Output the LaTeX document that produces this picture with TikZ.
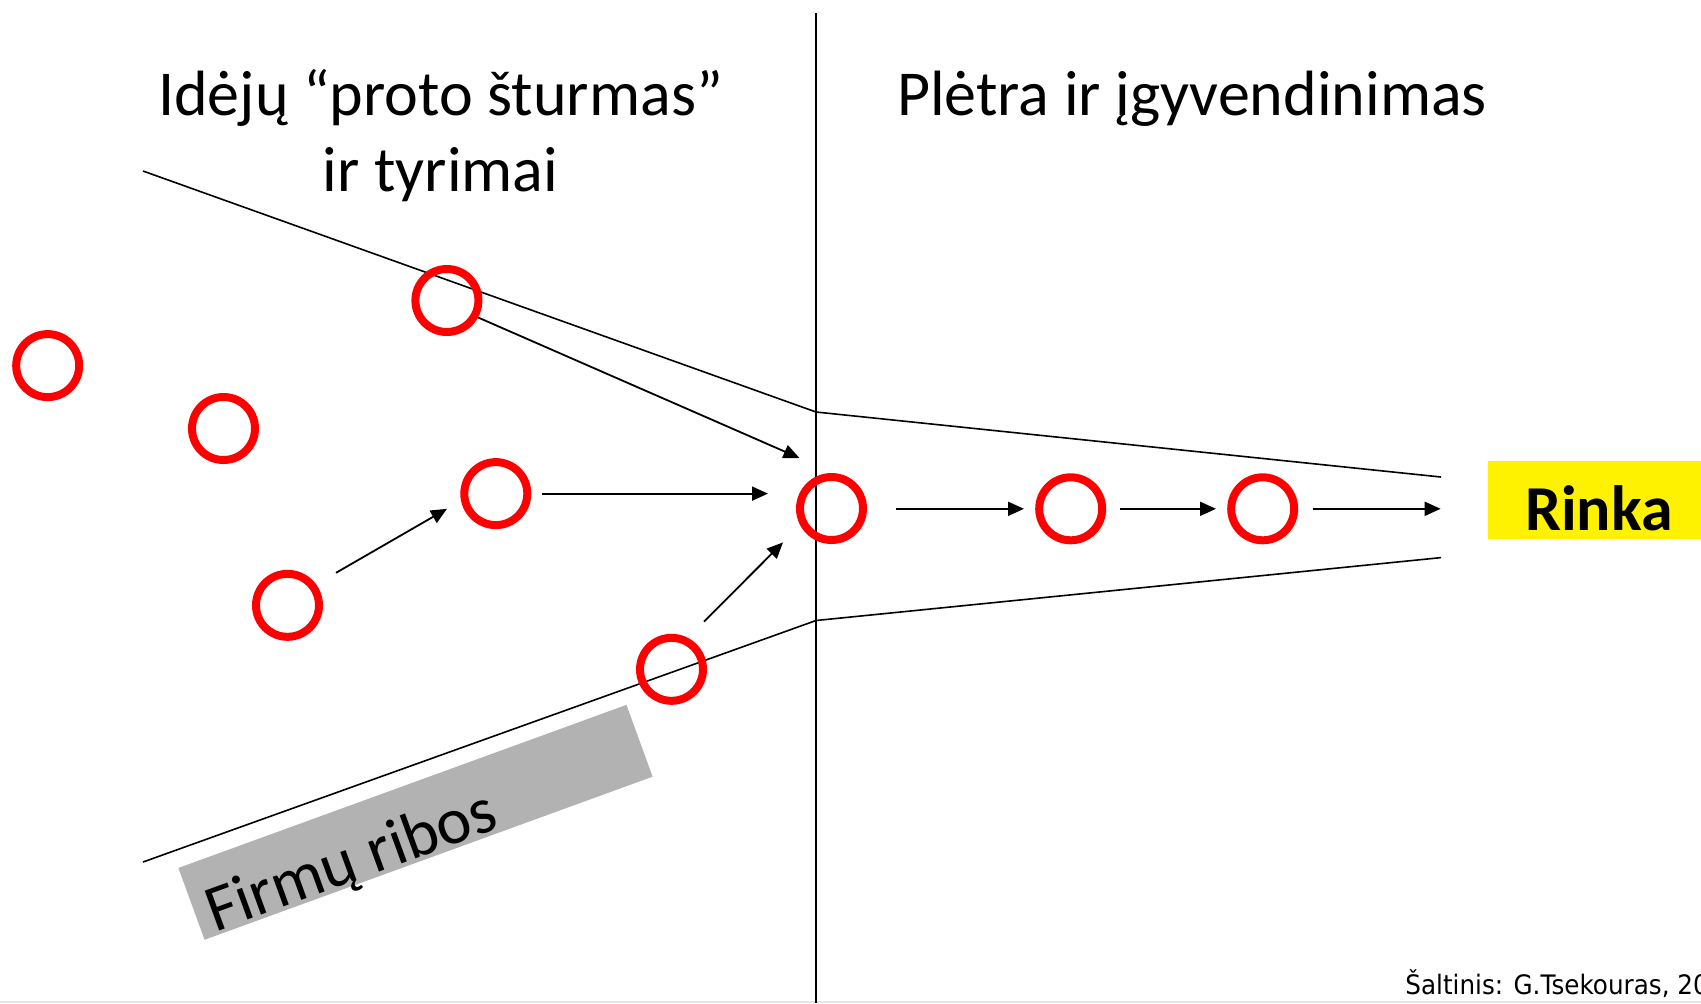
\documentclass[tikz,border=0pt]{standalone}
\usepackage{fontspec}
\setmainfont{Carlito}
\newfontfamily\srcfont{DejaVu Sans}
\usetikzlibrary{arrows.meta}
\begin{document}
\begin{tikzpicture}[x=0.5pt,y=-0.5pt,
  ring/.style={circle,draw=red,line width=4pt,minimum size=31.5pt,inner sep=0pt},
  funnel/.style={line width=0.8pt,black},
  flow/.style={line width=0.9pt,black,-{Triangle[length=8pt,width=7pt]}},
  bigtext/.style={font=\fontsize{32}{38}\selectfont,inner sep=0pt,anchor=base}]
\useasboundingbox (0,0) rectangle (1701,1003);
\fill[white] (0,0) rectangle (1701,1003);
\fill[black!10] (0,1000.5) rectangle (1701,1003);
% divider
\coordinate (vtop) at (816,13);
\coordinate (vbot) at (816,1003);
\draw[line width=1pt] (vtop) -- (vbot);
% funnel
\coordinate (ft1) at (143,171);
\coordinate (ft2) at (816,412);
\coordinate (ft3) at (1441,477);
\coordinate (fb1) at (143,862);
\coordinate (fb2) at (816,620.5);
\coordinate (fb3) at (1441,557.6);
\draw[funnel] (ft1) -- (ft2) -- (ft3);
\draw[funnel] (fb1) -- (fb2) -- (fb3);
% titles
\node[bigtext] (t1a) at (440.5,115) {Idėjų “proto šturmas”};
\node[bigtext] (t1b) at (440.5,191) {ir tyrimai};
\node[bigtext] (t2) at (1192,115) {Plėtra ir įgyvendinimas};
% gray box
\node[fill=black!30,rotate=20,minimum width=238.4pt,minimum height=38.2pt,inner sep=0pt] (firm) at (415.5,822.3) {};
\node[bigtext,font=\fontsize{33}{38}\selectfont,rotate=20] (firmt) at (358,880) {Firmų ribos};
% Rinka
\node[fill=yellow,minimum width=111pt,minimum height=39pt,inner sep=0pt] (rinka) at (1599,500) {};
\node[bigtext,font=\fontsize{32}{38}\selectfont\bfseries] (rinkat) at (1599,530.5) {Rinka};
% source
\node[font=\srcfont\fontsize{13.4}{15}\selectfont,anchor=base west,inner sep=0pt,xscale=0.92] (src) at (1405,994) {Šaltinis: G.Tsekouras, 200};
% arrow endpoints
\coordinate (a1s) at (477,317);   \coordinate (a1e) at (799.5,458);
\coordinate (a2s) at (542,493.6); \coordinate (a2e) at (768,493.6);
\coordinate (a3s) at (336,572.8); \coordinate (a3e) at (447,508.8);
\coordinate (a4s) at (704,621.6); \coordinate (a4e) at (783,542.4);
\coordinate (a5s) at (896,508.8); \coordinate (a5e) at (1024,508.8);
\coordinate (a6s) at (1119.5,508.8); \coordinate (a6e) at (1216,508.8);
\coordinate (a7s) at (1312.6,508.8); \coordinate (a7e) at (1440.6,508.8);
\foreach \i in {1,...,7} \draw[flow] (a\i s) -- (a\i e);
% circles
\node[ring] (c1) at (47.7,365.6) {};
\node[ring] (c2) at (223.5,428.5) {};
\node[ring] (c3) at (446.9,300.5) {};
\node[ring] (c4) at (495.8,493.6) {};
\node[ring] (c5) at (287.5,605.3) {};
\node[ring] (c6) at (671.5,669.3) {};
\node[ring] (c7) at (831.5,508.5) {};
\node[ring] (c8) at (1070.7,508.8) {};
\node[ring] (c9) at (1262.7,508.8) {};
\end{tikzpicture}
\end{document}
